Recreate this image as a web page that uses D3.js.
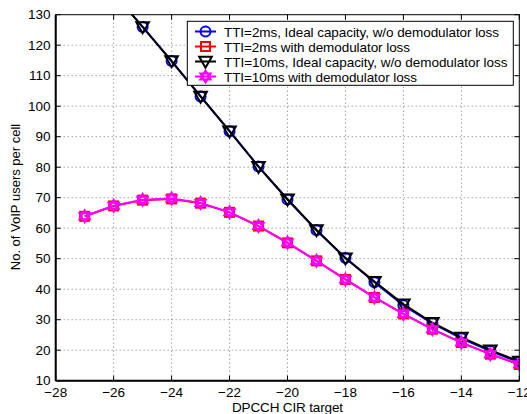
<!DOCTYPE html>
<html>
<head>
<meta charset="utf-8">
<script src="https://cdn.jsdelivr.net/npm/d3@7"></script>
<style>
  body { margin: 0; background: #fff; }
  text { font-family: "Liberation Sans", Arial, sans-serif; fill: #000; }
</style>
</head>
<body>
<svg id="chart" width="527" height="414"></svg>
<script>
// x values (DPCCH CIR target, dB)
const cir = [-27, -26, -25, -24, -23, -22, -21, -20, -19, -18, -17, -16, -15, -14, -13, -12];

// series values
const tti2Ideal  = [148, 137, 126, 114.8, 103.2, 91.8, 80.2, 69.4, 59.3, 50.2, 42.3, 34.7, 28.8, 23.9, 19.7, 16.1];
const tti2Loss   = [63.9, 67.3, 69.2, 69.6, 68.2, 65.2, 60.7, 55.2, 49.3, 43.2, 37.3, 31.9, 26.9, 22.5, 18.7, 15.3];
const tti10Ideal = [148, 137, 126, 114.8, 103.2, 91.8, 80.2, 69.5, 59.4, 50.2, 42.5, 35.1, 29.0, 24.2, 20.0, 16.3];
const tti10Loss  = [63.9, 67.4, 69.3, 69.7, 68.3, 65.2, 60.7, 55.3, 49.3, 43.2, 37.3, 31.9, 26.9, 22.5, 18.7, 15.4];

const xTicks = [-28, -26, -24, -22, -20, -18, -16, -14, -12];
const yTicks = [10, 20, 30, 40, 50, 60, 70, 80, 90, 100, 110, 120, 130];

const legendLabels = [
  "TTI=2ms, Ideal capacity, w/o demodulator loss",
  "TTI=2ms with demodulator loss",
  "TTI=10ms, Ideal capacity, w/o demodulator loss",
  "TTI=10ms with demodulator loss"
];
const legendWidths = [275, 186, 283.5, 193]; // measured text widths in the reference

const svg = d3.select("#chart");
const pLeft = 55.7, pRight = 519.3, pTop = 14.7, pBottom = 380.7;

const x = d3.scaleLinear().domain([-28, -12]).range([pLeft, pRight]);
const y = d3.scaleLinear().domain([10, 130]).range([pBottom, pTop]);

// grid
const grid = svg.append("g").attr("stroke", "#555").attr("stroke-width", 0.8).attr("stroke-dasharray", "1,3");
grid.selectAll(".gx").data(xTicks.slice(1, -1)).enter().append("line")
  .attr("x1", d => x(d)).attr("x2", d => x(d)).attr("y1", pTop).attr("y2", pBottom);
grid.selectAll(".gy").data(yTicks.slice(1, -1)).enter().append("line")
  .attr("x1", pLeft).attr("x2", pRight).attr("y1", d => y(d)).attr("y2", d => y(d));

svg.append("clipPath").attr("id", "clip").append("rect")
  .attr("x", pLeft).attr("y", pTop).attr("width", pRight - pLeft).attr("height", pBottom - pTop);

const plot = svg.append("g").attr("clip-path", "url(#clip)");
const line = d3.line().x((d, i) => x(cir[i])).y(d => y(d));

function marker(g, type, color) {
  if (type === "circle") {
    g.append("circle").attr("r", 5).attr("fill", "none").attr("stroke", color).attr("stroke-width", 2);
  } else if (type === "square") {
    g.append("rect").attr("x", -4.5).attr("y", -4.5).attr("width", 9).attr("height", 9)
      .attr("fill", "none").attr("stroke", color).attr("stroke-width", 2);
  } else if (type === "triangle") {
    g.append("path").attr("d", "M-6.3,-4.7L6.3,-4.7L0,6.3Z")
      .attr("fill", "none").attr("stroke", color).attr("stroke-width", 2);
  } else if (type === "hexagram") {
    const r = 6;
    const tri = a => d3.range(3).map(k => {
      const t = a + k * 2 * Math.PI / 3;
      return [r * Math.sin(t), -r * Math.cos(t)];
    });
    [0, Math.PI].forEach(a => {
      g.append("path").attr("d", "M" + tri(a).join("L") + "Z")
        .attr("fill", "none").attr("stroke", color).attr("stroke-width", 2);
    });
  }
}

const series = [
  { vals: tti2Ideal, color: "#0000ff", type: "circle" },
  { vals: tti2Loss, color: "#ff0000", type: "square" },
  { vals: tti10Ideal, color: "#000000", type: "triangle" },
  { vals: tti10Loss, color: "#ff00ff", type: "hexagram" }
];

series.forEach(s => {
  plot.append("path").attr("d", line(s.vals)).attr("fill", "none")
    .attr("stroke", s.color).attr("stroke-width", 2);
  s.vals.forEach((v, i) => {
    const g = plot.append("g").attr("transform", "translate(" + x(cir[i]) + "," + y(v) + ")");
    marker(g, s.type, s.color);
  });
});

// axes box and inward ticks
const axes = svg.append("g").attr("stroke", "#000").attr("fill", "none");
axes.append("rect").attr("x", pLeft).attr("y", pTop).attr("width", pRight - pLeft).attr("height", pBottom - pTop)
  .attr("stroke-width", 1);
axes.append("line").attr("x1", pLeft).attr("x2", pRight).attr("y1", pBottom).attr("y2", pBottom).attr("stroke-width", 2);
axes.append("line").attr("x1", pLeft).attr("x2", pLeft).attr("y1", pTop).attr("y2", pBottom).attr("stroke-width", 2);
xTicks.forEach(t => {
  axes.append("line").attr("x1", x(t)).attr("x2", x(t)).attr("y1", pBottom).attr("y2", pBottom - 5);
  axes.append("line").attr("x1", x(t)).attr("x2", x(t)).attr("y1", pTop).attr("y2", pTop + 5);
});
yTicks.forEach(t => {
  axes.append("line").attr("x1", pLeft).attr("x2", pLeft + 5).attr("y1", y(t)).attr("y2", y(t));
  axes.append("line").attr("x1", pRight).attr("x2", pRight - 5).attr("y1", y(t)).attr("y2", y(t));
});

// tick labels
svg.selectAll(".xl").data(xTicks).enter().append("text")
  .attr("x", d => x(d)).attr("y", 397).attr("text-anchor", "middle").attr("font-size", 13.5)
  .text(d => d < 0 ? "\u2212" + Math.abs(d) : d);
svg.selectAll(".yl").data(yTicks).enter().append("text")
  .attr("x", 50.5).attr("y", d => y(d) + 4.6).attr("text-anchor", "end").attr("font-size", 13.5)
  .text(d => d);

svg.append("text").attr("x", 232).attr("y", 412).attr("font-size", 13.5)
  .attr("textLength", 111).attr("lengthAdjust", "spacing").text("DPCCH CIR target");
svg.append("text").attr("transform", "translate(19.5,197) rotate(-90)").attr("text-anchor", "middle")
  .attr("font-size", 13).text("No. of VoIP users per cell");

// legend
const lg = svg.append("g");
lg.append("rect").attr("x", 187.3).attr("y", 21.3).attr("width", 326).attr("height", 64)
  .attr("fill", "#fff").attr("stroke", "#000").attr("stroke-width", 1);
series.forEach((s, i) => {
  const ly = 31.5 + i * 15;
  lg.append("line").attr("x1", 195).attr("x2", 216).attr("y1", ly).attr("y2", ly)
    .attr("stroke", s.color).attr("stroke-width", 2);
  const g = lg.append("g").attr("transform", "translate(205.5," + ly + ")");
  marker(g, s.type, s.color);
  lg.append("text").attr("x", 224).attr("y", ly + 5).attr("font-size", 13.5)
    .attr("textLength", legendWidths[i]).attr("lengthAdjust", "spacing").text(legendLabels[i]);
});
</script>
</body>
</html>
